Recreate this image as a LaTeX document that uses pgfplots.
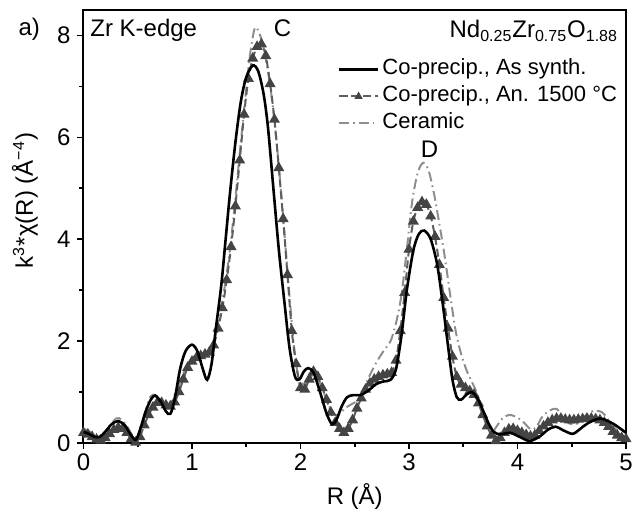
\documentclass[border=0pt]{standalone}
\usepackage{fontspec}
\setmainfont{Liberation Sans}
\usepackage{pgfplots}
\usepackage{pgfplotstable}
\pgfplotsset{compat=1.18}
\definecolor{trig}{HTML}{444444}
\definecolor{trigl}{HTML}{5E5E5E}
\definecolor{cerg}{HTML}{8E8E8E}

% Co-precip., as synthesised
\pgfplotstableread{
r chi
0.00 0.22
0.05 0.18
0.10 0.12
0.15 0.12
0.20 0.22
0.26 0.37
0.32 0.43
0.38 0.35
0.43 0.18
0.48 0.06
0.52 0.25
0.57 0.60
0.62 0.85
0.66 0.93
0.71 0.82
0.76 0.62
0.80 0.57
0.84 0.85
0.89 1.45
0.94 1.80
1.00 1.93
1.05 1.80
1.10 1.45
1.14 1.24
1.18 1.55
1.22 2.25
1.27 3.10
1.31 4.00
1.35 4.90
1.40 5.90
1.45 6.70
1.50 7.18
1.56 7.41
1.61 7.30
1.66 6.85
1.70 6.20
1.75 5.00
1.80 3.80
1.85 2.80
1.90 1.85
1.95 1.30
1.99 1.25
2.03 1.40
2.07 1.47
2.12 1.38
2.18 1.00
2.24 0.58
2.29 0.37
2.33 0.45
2.38 0.72
2.43 0.90
2.49 0.94
2.55 0.94
2.62 1.02
2.70 1.16
2.77 1.21
2.83 1.24
2.88 1.45
2.93 2.10
2.98 3.00
3.04 3.78
3.09 4.10
3.14 4.17
3.20 4.00
3.26 3.50
3.31 2.75
3.36 1.90
3.40 1.25
3.44 0.90
3.48 0.85
3.53 0.95
3.58 1.00
3.63 0.88
3.68 0.65
3.73 0.40
3.78 0.22
3.84 0.17
3.93 0.20
4.02 0.12
4.11 0.04
4.20 0.12
4.28 0.26
4.35 0.32
4.43 0.24
4.51 0.18
4.58 0.28
4.65 0.39
4.76 0.48
4.88 0.38
5.00 0.20
}\assynth

% Co-precip., annealed 1500 C
\pgfplotstableread{
r chi
0.00 0.20
0.04 0.17
0.08 0.12
0.12 0.07
0.16 0.05
0.20 0.10
0.24 0.18
0.28 0.26
0.32 0.30
0.36 0.28
0.40 0.20
0.44 0.08
0.48 0.01
0.52 0.12
0.56 0.35
0.60 0.55
0.64 0.70
0.68 0.79
0.72 0.79
0.76 0.74
0.80 0.72
0.84 0.80
0.88 1.00
0.92 1.25
0.96 1.48
1.00 1.60
1.04 1.67
1.08 1.71
1.12 1.74
1.16 1.78
1.20 1.92
1.24 2.25
1.28 2.65
1.32 3.20
1.36 3.85
1.40 4.65
1.44 5.55
1.48 6.45
1.52 7.15
1.56 7.55
1.60 7.78
1.64 7.83
1.68 7.60
1.72 7.05
1.76 6.35
1.80 5.40
1.84 4.40
1.88 3.30
1.92 2.20
1.96 1.55
2.00 1.08
2.04 1.05
2.08 1.25
2.12 1.40
2.16 1.30
2.20 1.08
2.24 0.85
2.28 0.60
2.32 0.40
2.36 0.28
2.40 0.20
2.44 0.28
2.48 0.45
2.52 0.68
2.56 0.88
2.60 1.05
2.64 1.17
2.68 1.25
2.72 1.30
2.76 1.33
2.80 1.35
2.84 1.38
2.88 1.62
2.92 2.20
2.96 2.95
3.00 3.80
3.04 4.35
3.08 4.62
3.12 4.73
3.16 4.68
3.20 4.45
3.24 4.05
3.28 3.50
3.32 2.85
3.36 2.25
3.40 1.70
3.44 1.30
3.48 1.15
3.52 1.08
3.56 1.02
3.60 0.95
3.64 0.78
3.68 0.55
3.72 0.33
3.76 0.15
3.80 0.04
3.84 0.10
3.88 0.20
3.92 0.27
3.96 0.28
4.00 0.24
4.04 0.20
4.08 0.16
4.12 0.13
4.16 0.15
4.20 0.24
4.24 0.33
4.28 0.40
4.32 0.45
4.36 0.48
4.40 0.48
4.44 0.46
4.48 0.45
4.52 0.45
4.56 0.46
4.60 0.47
4.64 0.48
4.68 0.48
4.72 0.47
4.76 0.45
4.80 0.40
4.84 0.32
4.88 0.22
4.92 0.15
4.96 0.10
5.00 0.08
}\annealed

% Ceramic
\pgfplotstableread{
r chi
0.00 0.28
0.06 0.22
0.12 0.12
0.17 0.13
0.23 0.30
0.30 0.48
0.35 0.46
0.41 0.30
0.47 0.08
0.51 0.20
0.56 0.55
0.62 0.92
0.67 0.93
0.72 0.82
0.78 0.75
0.84 0.92
0.90 1.25
0.96 1.55
1.02 1.70
1.08 1.74
1.14 1.78
1.20 2.00
1.25 2.45
1.30 3.05
1.35 3.80
1.40 4.80
1.45 5.90
1.50 6.95
1.54 7.70
1.58 8.15
1.62 8.05
1.66 7.75
1.70 7.30
1.74 6.70
1.78 5.90
1.82 4.95
1.86 3.90
1.90 2.85
1.94 1.90
1.98 1.30
2.03 1.15
2.08 1.25
2.13 1.35
2.19 1.12
2.25 0.80
2.30 0.58
2.35 0.55
2.41 0.68
2.47 0.76
2.53 0.85
2.59 1.10
2.65 1.38
2.71 1.62
2.77 1.82
2.83 2.00
2.88 2.35
2.93 2.90
2.98 3.80
3.03 4.75
3.08 5.30
3.13 5.50
3.18 5.35
3.23 4.90
3.28 4.30
3.33 3.65
3.38 2.90
3.43 2.20
3.48 1.75
3.53 1.43
3.58 1.20
3.63 0.95
3.68 0.60
3.72 0.30
3.76 0.18
3.80 0.30
3.86 0.48
3.92 0.55
3.98 0.52
4.05 0.42
4.12 0.27
4.17 0.30
4.23 0.52
4.30 0.64
4.36 0.67
4.42 0.50
4.48 0.38
4.55 0.38
4.62 0.52
4.70 0.63
4.78 0.60
4.85 0.42
4.92 0.24
5.00 0.14
}\ceramic

\begin{document}
\begin{tikzpicture}[font=\fontsize{12}{14}\selectfont]
\begin{axis}[
  name=ax,
  scale only axis, width=271.25pt, height=216.5pt,
  xmin=0, xmax=5, ymin=0, ymax=8.5,
  xtick={0,1,2,3,4,5}, ytick={0,2,4,6,8},
  minor x tick num=1, minor y tick num=1,
  tick align=outside, tick pos=left,
  major tick length=3pt, minor tick length=2pt,
  axis line style={line width=1pt},
  every tick/.style={line width=0.8pt, black},
  /pgf/number format/assume math mode=true,
  tick label style={font=\fontsize{12}{14}\selectfont},
  xticklabel style={yshift=1pt},
  xlabel={R (Å)},
  ylabel={k\textsuperscript{3}*χ(R) (Å\textsuperscript{−4})},
  label style={font=\fontsize{12}{14}\selectfont},
  xlabel style={at={(axis description cs:0.5,-0.124)}, anchor=center},
  ylabel style={at={(axis description cs:-0.108,0.56)}, anchor=center},
  clip mode=individual,
  legend style={at={(axis description cs:0.468,0.888)}, anchor=north west,
    draw=none, fill=none, inner sep=0pt, row sep=3pt,
    font=\fontsize{11}{13}\selectfont,
    nodes={inner xsep=1.5pt, inner ysep=0pt, text height=8pt, text depth=2.5pt}},
  legend cell align=left,
  legend image code/.code={\draw[mark repeat=2,mark phase=2,#1]
    plot coordinates {(0pt,0pt) (9.75pt,0pt) (19.5pt,0pt)};},
  legend image post style={mark size=1.4pt},
  reverse legend,
]
\addplot[smooth, color=cerg, line width=1pt,
  dash pattern=on 5pt off 2pt on 0.8pt off 2pt] table[x=r,y=chi] {\ceramic};
\addlegendentry{Ceramic}
\addplot[smooth, color=trigl, line width=1pt, dash pattern=on 4pt off 2pt,
  mark=triangle*, mark size=2.2pt,
  mark options={solid, fill=trig, draw=trig}] table[x=r,y=chi] {\annealed};
\addlegendentry{Co-precip., An. 1500 °C}
\addplot[smooth, color=black, line width=1.3pt] table[x=r,y=chi] {\assynth};
\addlegendentry{Co-precip., As synth.}

\node[anchor=base west, inner sep=0pt] at (axis cs:0.06,7.98) {Zr K-edge};
\node[anchor=base, inner sep=0pt] at (axis cs:1.834,7.98) {C};
\node[anchor=base, inner sep=0pt] at (axis cs:3.19,5.61) {D};
\node[anchor=base east, inner sep=0pt] at (axis cs:4.93,7.96)
  {Nd\textsubscript{0.25}Zr\textsubscript{0.75}O\textsubscript{1.88}};
\node[anchor=base west, inner sep=0pt] at (axis description cs:-0.1205,0.940) {a)};
\end{axis}
\pgfresetboundingbox
\path[use as bounding box] ([shift={(-41.75pt,-35.5pt)}]ax.south west)
  rectangle ([shift={(3pt,5pt)}]ax.north east);
\end{tikzpicture}
\end{document}
